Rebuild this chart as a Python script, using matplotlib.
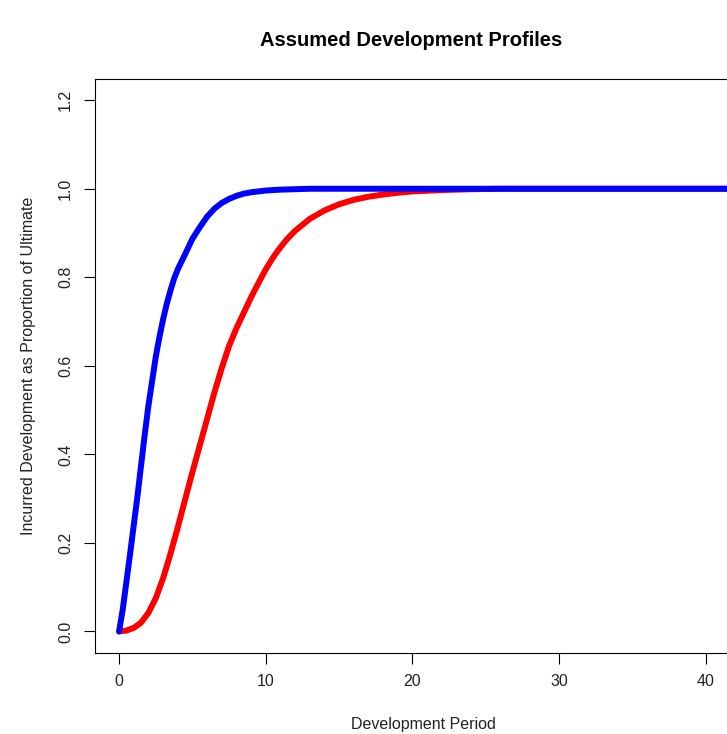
import matplotlib
matplotlib.use("Agg")
import matplotlib.pyplot as plt

# faster profile (blue)
blue_period = [0, 0.25, 0.5, 0.75, 1, 1.25, 1.5, 1.75, 2, 2.25, 2.5, 2.75, 3, 3.25, 3.5, 3.75, 4,
               4.5, 5, 5.5, 6, 6.5, 7, 7.5, 8, 8.5, 9, 9.5, 10, 11, 12, 13, 15, 20, 30, 40, 45]
blue_profile = [0, 0.05, 0.112, 0.175, 0.24, 0.305, 0.375, 0.445, 0.51, 0.565, 0.62, 0.665, 0.705,
                0.74, 0.77, 0.797, 0.818, 0.852, 0.887, 0.913, 0.937, 0.955, 0.968, 0.977, 0.984,
                0.989, 0.992, 0.994, 0.996, 0.998, 0.999, 1.0, 1.0, 1.0, 1.0, 1.0, 1.0]

# slower profile (red)
red_period = [0, 0.5, 1, 1.5, 2, 2.5, 3, 3.5, 4, 4.5, 5, 5.5, 6, 6.5, 7, 7.5, 8, 8.5, 9, 9.5,
              10, 10.5, 11, 11.5, 12, 13, 14, 15, 16, 17, 18, 19, 20, 22, 24, 26, 30, 40, 45]
red_profile = [0, 0.002, 0.008, 0.02, 0.042, 0.075, 0.12, 0.175, 0.235, 0.298, 0.36, 0.42, 0.48,
               0.54, 0.595, 0.645, 0.685, 0.72, 0.755, 0.787, 0.818, 0.845, 0.868, 0.888, 0.905,
               0.932, 0.951, 0.965, 0.975, 0.982, 0.987, 0.991, 0.994, 0.997, 0.999, 1.0, 1.0,
               1.0, 1.0]

x_ticks = [0, 10, 20, 30, 40]
y_ticks = [0.0, 0.2, 0.4, 0.6, 0.8, 1.0, 1.2]
y_tick_labels = ["0.0", "0.2", "0.4", "0.6", "0.8", "1.0", "1.2"]

plt.rcParams['font.family'] = ['Liberation Sans', 'DejaVu Sans']

fig = plt.figure(figsize=(7.27, 7.34), dpi=100)
# axes run past the right edge of the picture, like the cropped original
ax = fig.add_axes([0.1303, 0.1108, 0.9056, 0.7816])

ax.plot(red_period, red_profile, color="red", lw=4.3, solid_capstyle="round")
ax.plot(blue_period, blue_profile, color="blue", lw=4.3, solid_capstyle="round")

ax.set_xlim(-1.66, 43.22)
ax.set_ylim(-0.048, 1.248)
ax.set_xticks(x_ticks)
ax.set_yticks(y_ticks)
ax.set_yticklabels(y_tick_labels, rotation=90, va="center")

for s in ax.spines.values():
    s.set_linewidth(0.8)
ax.tick_params(length=7.6, width=0.8, labelsize=11.5, pad=8, colors="black",
               labelcolor="#222222")

ax.set_xlabel("Development Period", fontsize=11.5, labelpad=20, color="#222222")
ax.set_ylabel("Incurred Development as Proportion of Ultimate", fontsize=11.5, labelpad=16,
              color="#222222")

fig.text(411 / 727, 1 - 41 / 734, "Assumed Development Profiles", ha="center", va="center",
         fontsize=14.5, fontweight="bold")

fig.savefig("out.png", dpi=100)
